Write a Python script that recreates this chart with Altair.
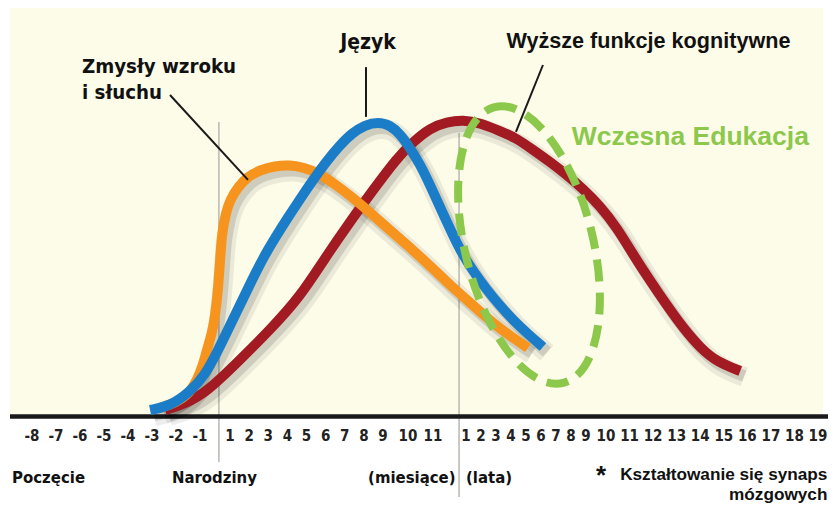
import altair as alt
import pandas as pd

# ---- axis tick labels (axis positions 0..37) ----
prenatal = ["-8", "-7", "-6", "-5", "-4", "-3", "-2", "-1"]
months = ["1", "2", "3", "4", "5", "6", "7", "8", "9", "10", "11"]
years = ["1", "2", "3", "4", "5", "6", "7", "8", "9", "10",
         "11", "12", "13", "14", "15", "16", "17", "18", "19"]
tick_labels = prenatal + months + years

# ---- curves (x = axis position, y = synapse formation level) ----
senses_x = [5.33, 5.96, 6.58, 6.875, 7.1, 7.23, 7.4, 7.5, 7.6, 7.67, 7.73, 7.87, 8.0,
            8.42, 8.89, 9.57, 10.35, 11.14, 11.92, 12.6, 13.49, 14.43, 15.48, 16.4,
            17.2, 17.88, 18.36, 18.82, 19.73, 20.8, 21.93, 23.13]
senses_y = [1.7, 3.3, 6.7, 11, 16, 21, 26.7, 32, 41, 51, 60, 67, 71,
            75.3, 78.7, 81, 82.3, 82.7, 81.7, 80, 76.3, 71.7, 66, 60,
            54.3, 49, 44.3, 39.7, 34.7, 30, 25.7, 21.7]

language_x = [4.92, 5.75, 6.58, 7.17, 7.57, 7.93, 8.52, 9.15, 9.73, 10.35, 10.98, 11.66,
              12.34, 13.02, 13.75, 14.38, 15.06, 15.74, 16.28, 16.68, 17.08, 17.48, 17.88,
              18.21, 18.52, 18.82, 19.47, 20.4, 21.27, 22.13, 23.13, 24.13]
language_y = [1, 2.3, 7, 12.7, 20.3, 27.7, 36, 44.3, 51.7, 58.3, 64.7, 71.3,
              77.7, 83.7, 89.3, 93.3, 96, 97, 96, 93, 88.3, 83, 76,
              68.7, 61.3, 54.3, 47.3, 41, 35.7, 31, 26.3, 22]

cognitive_x = [5.54, 6.375, 7.23, 8.52, 10.09, 11.66, 12.97, 14.27, 15.48, 16.56, 17.2,
               17.88, 18.42, 18.91, 19.93, 21.27, 22.33, 23.47, 24.6, 25.73, 26.8,
               27.7, 28.47, 29.16, 29.88, 30.6, 31.28, 32.0, 32.72, 33.7]
cognitive_y = [1, 3, 7, 17.7, 27.7, 38.7, 51.7, 63.7, 74.3, 85, 90.3,
               95, 97, 97.7, 96.7, 94, 91.7, 87.7, 83.7, 79.3, 74.7,
               69, 61.7, 52.7, 44, 35.7, 28.3, 21.7, 17, 14]

# ---- markers / annotations ----
marker_x = [7.63, 18.79]          # birth, first year
marker_top = [97, 93.3]
marker_bottom = [-16.3, -28]

bottom_labels = ["Poczęcie", "Narodziny", "(miesiące)", "(lata)"]
bottom_x = [-0.83, 5.83, 15.22, 19.0]

callout_x = [5.75, 15.11, 24.13]
callout_y = [106, 115.3, 116]
callout_x2 = [8.94, 15.11, 22.33]
callout_y2 = [77.7, 98.7, 93.7]

edu_center_x = [23.2]
edu_center_y = [56]

ORANGE = "#f7941d"
BLUE = "#1b7dc8"
RED = "#a21a22"
GREEN = "#8cc84b"
CREAM = "#fdfce9"
NARROW = "'DejaVu Sans Condensed', 'Liberation Sans Narrow', sans-serif"
SANS = "'Liberation Sans', Arial, sans-serif"

xs = alt.Scale(domain=[0, 7, 8, 16, 18, 19, 27, 28, 37],
               range=[24, 192, 222, 375, 425, 458, 578, 598, 810])
ys = alt.Scale(domain=[0, 100], range=[405, 105], zero=False, nice=False)
X = lambda f: alt.X(f, type="quantitative", scale=xs, axis=None)
Y = lambda f: alt.Y(f, type="quantitative", scale=ys, axis=None)

def curve(xv, yv):
    return pd.DataFrame({"x": xv, "y": yv, "o": list(range(len(xv)))})

senses = curve(senses_x, senses_y)
language = curve(language_x, language_y)
cognitive = curve(cognitive_x, cognitive_y)

bg = alt.Chart(pd.DataFrame({"a": [0]})).mark_rect(color=CREAM).encode(
    x=alt.value(2), x2=alt.value(815), y=alt.value(0), y2=alt.value(406))

markers = alt.Chart(pd.DataFrame({"x": marker_x, "y": marker_top, "y2": marker_bottom})).mark_rule(
    color="#b8b8b0", strokeWidth=1.5).encode(x=X("x"), y=Y("y"), y2="y2")

axis_line = alt.Chart(pd.DataFrame({"y": [-1.2]})).mark_rule(
    color="#1a1a1a", strokeWidth=4.5).encode(x=alt.value(2), x2=alt.value(820), y=Y("y"))

INTERP = "basis"

def shadow(df):
    a = alt.Chart(df).mark_line(color="#000000", opacity=0.07, strokeWidth=20,
                                xOffset=4, yOffset=6, interpolate=INTERP).encode(
        x=X("x"), y=Y("y"), order="o")
    b = alt.Chart(df).mark_line(color="#000000", opacity=0.12, strokeWidth=12,
                                xOffset=4, yOffset=5, interpolate=INTERP).encode(
        x=X("x"), y=Y("y"), order="o")
    return [a, b]

def line(df, color):
    return alt.Chart(df).mark_line(color=color, strokeWidth=10, interpolate=INTERP).encode(
        x=X("x"), y=Y("y"), order="o")

k = 0.5523
rx = 0.45
ellipse_path = (f"M 0,-1 C {k*rx:.4f},-1 {rx},-{k} {rx},0 C {rx},{k} {k*rx:.4f},1 0,1 "
                f"C -{k*rx:.4f},1 -{rx},{k} -{rx},0 C -{rx},-{k} -{k*rx:.4f},-1 0,-1 Z")
ellipse = alt.Chart(pd.DataFrame({"x": edu_center_x, "y": edu_center_y})).mark_point(
    shape=ellipse_path, size=80656, angle=346, filled=False, color=GREEN, opacity=1,
    strokeWidth=8, strokeDash=[22, 11]).encode(x=X("x"), y=Y("y"))

callouts = alt.Chart(pd.DataFrame({"x": callout_x, "y": callout_y,
                                   "x2": callout_x2, "y2": callout_y2})).mark_rule(
    color="#1a1a1a", strokeWidth=2).encode(x=X("x"), y=Y("y"), x2="x2", y2="y2")

def texts(labels, xv, yv, size, font, weight="bold", color="#111111", align="center"):
    df = pd.DataFrame({"t": labels, "x": xv, "y": yv})
    return alt.Chart(df).mark_text(fontSize=size, font=font, fontWeight=weight, color=color,
                                   align=align, baseline="middle").encode(
        x=X("x"), y=Y("y"), text="t:N")

ticks = texts(tick_labels, list(range(len(tick_labels))), [-7.5] * len(tick_labels),
              15, NARROW, color="#222222")
senses_lbl = texts(["Zmysły wzroku", "i słuchu"], [2.08, 2.08], [115.3, 106.7], 20.3, NARROW, align="left")
lang_lbl = texts(["Język"], [15.22], [123.3], 21, NARROW)
cog_lbl = texts(["Wyższe funkcje kognitywne"], [29.8], [123.7], 21.6, SANS)
edu_lbl = texts(["Wczesna Edukacja"], [31.58], [92], 26.5, SANS, color=GREEN)
bottom_lbl = texts(bottom_labels, bottom_x, [-21.7] * 4, 16.6, NARROW, align="left")
note1 = texts(["Kształtowanie się synaps"], [37.4], [-20.6], 17.2, SANS, align="right")
note2 = texts(["mózgowych"], [37.4], [-27.4], 17.2, SANS, align="right")
star = texts(["*"], [27.75], [-21.0], 26, SANS)

layers = [bg, markers, axis_line]
layers += shadow(cognitive) + shadow(senses) + shadow(language)
layers += [line(cognitive, RED), line(senses, ORANGE), line(language, BLUE),
           ellipse, callouts, ticks, senses_lbl, lang_lbl, cog_lbl, edu_lbl,
           bottom_lbl, note1, note2, star]

chart = alt.layer(*layers).properties(
    width=820, height=496, padding=0, autosize=alt.AutoSizeParams(type="none"),
    background="#ffffff"
).configure_view(stroke=None)

chart.save("out.html", embed_options={"renderer": "svg", "actions": False})
